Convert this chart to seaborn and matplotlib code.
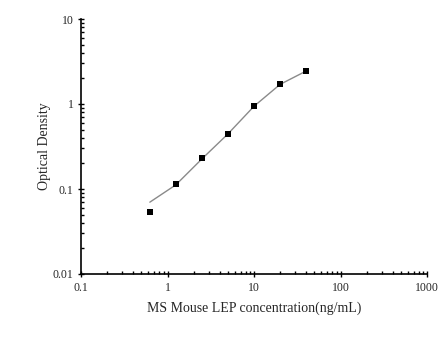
import matplotlib
matplotlib.use("Agg")
import matplotlib.pyplot as plt
import seaborn as sns
import pandas as pd
from matplotlib.ticker import LogLocator, FixedLocator, FixedFormatter, NullFormatter

conc = [0.625, 1.25, 2.5, 5, 10, 20, 40]
od = [0.054, 0.1145, 0.232, 0.444, 0.947, 1.70, 2.44]
fit_od = [0.070, 0.112, 0.226, 0.445, 0.94, 1.70, 2.44]

x_ticks = [0.1, 1, 10, 100, 1000]
x_labels = ["0.1", "1", "10", "100", "1000"]
y_ticks = [0.01, 0.1, 1, 10]
y_labels = ["0.01", "0.1", "1", "10"]

sns.set_style("ticks")
plt.rcParams['font.family'] = ['Liberation Serif', 'DejaVu Serif']

df = pd.DataFrame({"conc": conc, "od": od, "fit": fit_od})

fig = plt.figure(figsize=(4.46, 3.59), dpi=100)
ax = fig.add_axes([81/446, 1-274/359, (427-81)/446, (274-19)/359])

sns.lineplot(data=df, x="conc", y="fit", ax=ax, color="#8a8a8a", linewidth=1.0)
sns.scatterplot(data=df, x="conc", y="od", ax=ax, marker="s", color="black",
                s=17, edgecolor="black", linewidth=0, zorder=3)

ax.set_xscale("log")
ax.set_yscale("log")
ax.set_xlim(0.1, 1000)
ax.set_ylim(0.01, 10)

ax.xaxis.set_major_locator(FixedLocator(x_ticks))
ax.xaxis.set_major_formatter(FixedFormatter(x_labels))
ax.yaxis.set_major_locator(FixedLocator(y_ticks))
ax.yaxis.set_major_formatter(FixedFormatter(y_labels))
ax.xaxis.set_minor_locator(LogLocator(base=10, subs=range(2, 10)))
ax.yaxis.set_minor_locator(LogLocator(base=10, subs=range(2, 10)))
ax.xaxis.set_minor_formatter(NullFormatter())
ax.yaxis.set_minor_formatter(NullFormatter())

ax.tick_params(axis="both", which="major", direction="inout", length=5, width=1,
               labelsize=8.5, color="black", pad=3)
ax.tick_params(axis="both", which="minor", direction="in", length=2.5, width=1,
               color="black")

for s in ["top", "right"]:
    ax.spines[s].set_visible(False)
for s in ["left", "bottom"]:
    ax.spines[s].set_linewidth(1.2)
    ax.spines[s].set_color("black")

ax.set_xlabel("MS Mouse LEP concentration(ng/mL)", fontsize=10, labelpad=6)
ax.set_ylabel("Optical Density", fontsize=10, labelpad=1)

fig.savefig("out.png", dpi=100)
